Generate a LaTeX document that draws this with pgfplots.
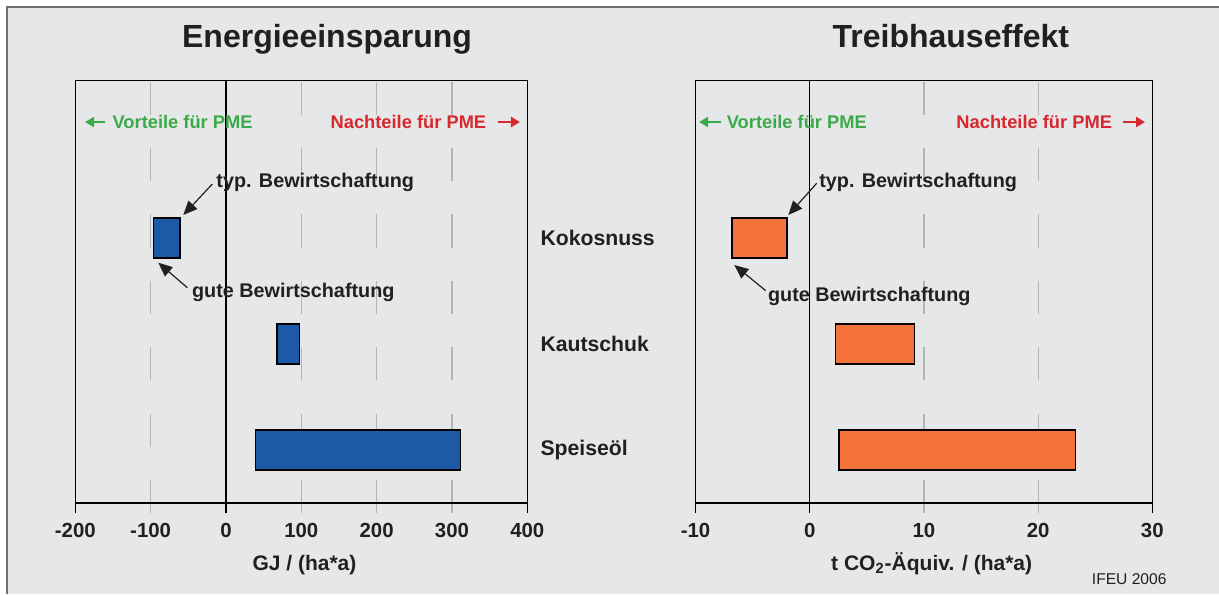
\documentclass[border=0pt]{standalone}
\usepackage{fontspec}
\setmainfont{Liberation Sans}
\usepackage{pgfplots}
\usepackage{pgfplotstable}
\pgfplotsset{compat=1.18}
\usetikzlibrary{arrows.meta}
\definecolor{bg}{HTML}{E6E7E8}
\definecolor{framegray}{HTML}{707070}
\definecolor{dark}{HTML}{231F20}
\definecolor{gridgray}{HTML}{B4B4B4}
\definecolor{barblue}{HTML}{1D5AA6}
\definecolor{barorange}{HTML}{F37338}
\definecolor{ptgreen}{HTML}{3BAA48}
\definecolor{ptred}{HTML}{D7282F}

\pgfplotstableread{
cat start len
3 -96 35
2 68 30
1 39 272
}\energie
\pgfplotstableread{
cat start len
3 -6.8 4.8
2 2.25 6.9
1 2.55 20.7
}\treibhaus

\tikzset{
  annot/.style={font=\fontsize{9.9}{12}\selectfont\bfseries, text=dark, inner sep=0pt},
  annarrow/.style={draw=dark, line width=0.6pt, -{Triangle[length=7pt,width=6pt]}},
  hint/.style={font=\fontsize{9.15}{11}\selectfont\bfseries, inner sep=0pt},
  hintarrow/.style={line width=1.2pt, -{Triangle[length=4.5pt,width=5pt]}},
}

\pgfplotsset{
  myaxis/.style={
    scale only axis, height=211.15pt,
    ymin=0.5, ymax=4.484,
    ytick=\empty,
    axis line style={line width=0.6pt, draw=black},
    xtick pos=left,
    tick align=outside,
    major tick length=5pt,
    xmajorgrids,
    major grid style={draw=gridgray, line width=0.6pt, dash pattern=on 16.6pt off 16.6pt, dash phase=5.1pt},
    major tick style={draw=gridgray, line width=0.6pt},
    tick label style={font=\fontsize{10.2}{12}\selectfont\bfseries, text=dark},
    xticklabel style={yshift=-1.5pt},
    extra x tick style={major grid style={draw=black, solid, line width=0.6pt}, major tick style={draw=black, line width=0.6pt}},
    xbar stacked, stack negative=on previous, bar width=20pt,
    clip=false,
    xlabel style={font=\fontsize{10.5}{12}\selectfont\bfseries, text=dark},
  },
}

\begin{document}
\begin{tikzpicture}
\useasboundingbox (0,0) rectangle (609.5pt,297pt);
\fill[white] (0,0) rectangle (609.5pt,297pt);
\fill[bg] (3.5pt,0) rectangle (609.5pt,293.5pt);
\draw[framegray, line width=1pt] (3.5pt,0) -- (3.5pt,293.5pt) -- (609.5pt,293.5pt);

% ---------- left axis ----------
\begin{axis}[myaxis, at={(37.65pt,45.5pt)}, anchor=south west, width=226pt,
  xmin=-200, xmax=400,
  xtick={-100,100,200,300}, xticklabels={-100,100,200,300},
  extra x ticks={-200,0,400}, extra x tick labels={-200,0,400},
  xlabel={GJ / (ha*a)},
  xlabel style={at={(axis description cs:0.507,-0.1603)}, anchor=base},
]
\addplot[draw=none, fill=none] table[x=start, y=cat] {\energie};
\addplot[fill=barblue, draw=black, line width=0.7pt] table[x=len, y=cat] {\energie};

\node[font=\fontsize{16}{19}\selectfont\bfseries, text=dark, anchor=base] at (axis description cs:0.557,1.0786) {Energieeinsparung};

\node[hint, text=ptgreen, anchor=west] at (axis cs:-151,4.094) {Vorteile für PME};
\draw[hintarrow, ptgreen] (axis cs:-160.6,4.094) -- (axis cs:-187.1,4.094);
\node[hint, text=ptred, anchor=east] at (axis cs:346,4.094) {Nachteile für PME};
\draw[hintarrow, ptred] (axis cs:361,4.094) -- (axis cs:390.3,4.094);

\node[annot, anchor=base west] at (axis cs:-13.2,3.475) {typ. Bewirtschaftung};
\draw[annarrow] (axis cs:-18.1,3.509) -- (axis cs:-56.6,3.217);
\node[annot, anchor=base west] at (axis cs:-45.5,2.437) {gute Bewirtschaftung};
\draw[annarrow] (axis cs:-51.3,2.531) -- (axis cs:-89.8,2.767);

\node[font=\fontsize{10.6}{12}\selectfont\bfseries, text=dark, anchor=west, inner sep=0pt] at (axis cs:417,3) {Kokosnuss};
\node[font=\fontsize{10.6}{12}\selectfont\bfseries, text=dark, anchor=west, inner sep=0pt] at (axis cs:417,2) {Kautschuk};
\node[font=\fontsize{10.6}{12}\selectfont\bfseries, text=dark, anchor=west, inner sep=0pt] at (axis cs:417,1) {Speiseöl};
\end{axis}

% ---------- right axis ----------
\begin{axis}[myaxis, at={(347.75pt,45.5pt)}, anchor=south west, width=228.4pt,
  xmin=-10, xmax=30,
  xtick={10,20}, xticklabels={10,20},
  extra x ticks={-10,0,30}, extra x tick labels={-10,0,30},
  xlabel={t CO\textsubscript{2}-Äquiv. / (ha*a)},
  xlabel style={at={(axis description cs:0.517,-0.1603)}, anchor=base},
]
\addplot[draw=none, fill=none] table[x=start, y=cat] {\treibhaus};
\addplot[fill=barorange, draw=black, line width=0.7pt] table[x=len, y=cat] {\treibhaus};

\node[font=\fontsize{16}{19}\selectfont\bfseries, text=dark, anchor=base] at (axis description cs:0.559,1.0786) {Treibhauseffekt};

\node[hint, text=ptgreen, anchor=west] at (axis cs:-7.29,4.094) {Vorteile für PME};
\draw[hintarrow, ptgreen] (axis cs:-7.80,4.094) -- (axis cs:-9.69,4.094);
\node[hint, text=ptred, anchor=east] at (axis cs:26.51,4.094) {Nachteile für PME};
\draw[hintarrow, ptred] (axis cs:27.43,4.094) -- (axis cs:29.36,4.094);

\node[annot, anchor=base west] at (axis cs:0.81,3.475) {typ. Bewirtschaftung};
\draw[annarrow] (axis cs:0.61,3.516) -- (axis cs:-1.87,3.217);
\node[annot, anchor=base west] at (axis cs:-3.68,2.399) {gute Bewirtschaftung};
\draw[annarrow] (axis cs:-3.85,2.503) -- (axis cs:-6.60,2.745);
\end{axis}

\node[anchor=base west, inner sep=0pt, font=\fontsize{7.8}{9}\selectfont, text=dark] at (545.75pt,5pt) {IFEU 2006};
\end{tikzpicture}
\end{document}
